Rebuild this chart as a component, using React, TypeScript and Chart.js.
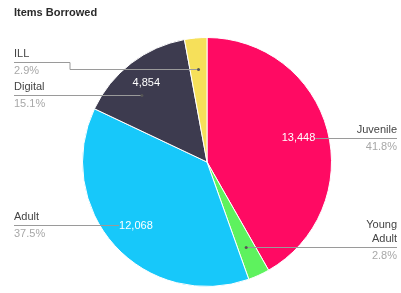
import React, { useEffect, useRef } from "react";
import { Chart, registerables } from "chart.js";

Chart.register(...registerables);

const title = "Items Borrowed";
const categories = ["Juvenile", "Young Adult", "Adult", "Digital", "ILL"];
const nameLines = [["Juvenile"], ["Young", "Adult"], ["Adult"], ["Digital"], ["ILL"]];
const values = [13448, 900, 12068, 4854, 933];
const showValue = [true, false, true, true, false];
const colors = ["#ff0a63", "#5ef25e", "#17c8fa", "#3d3b4f", "#f6e05a"];

const FONT = "Arial, 'Liberation Sans', sans-serif";
const VALUE_RADIUS = [0.76, 0.76, 0.77, 0.8, 0.76];

const labelPlugin = {
  id: "leaderLabels",
  afterDraw(chart: any) {
    const ctx = chart.ctx;
    const meta = chart.getDatasetMeta(0);
    const total = values.reduce((a, b) => a + b, 0);
    const W = chart.width;
    ctx.save();
    ctx.font = `bold 11px ${FONT}`;
    ctx.fillStyle = "#2a2a2a";
    ctx.textAlign = "left";
    ctx.textBaseline = "alphabetic";
    ctx.fillText(title, 14, 16);

    const arcs = meta.data;
    const pos = (arc: any, f: number) => {
      const mid = (arc.startAngle + arc.endAngle) / 2;
      return {
        x: arc.x + Math.cos(mid) * arc.outerRadius * f,
        y: arc.y + Math.sin(mid) * arc.outerRadius * f,
      };
    };

    ctx.font = `11px ${FONT}`;
    const valueBoxes: any[] = [];
    arcs.forEach((arc: any, i: number) => {
      if (!showValue[i]) { valueBoxes.push(null); return; }
      const p = pos(arc, VALUE_RADIUS[i]);
      const txt = values[i].toLocaleString("en-US");
      const w = ctx.measureText(txt).width;
      valueBoxes.push({ x: p.x, y: p.y, w, txt });
    });

    const drawLine = (pts: number[][]) => {
      ctx.strokeStyle = "#9a9a9a";
      ctx.lineWidth = 1;
      ctx.beginPath();
      pts.forEach((p, k) => {
        if (k === 0) ctx.moveTo(p[0], Math.round(p[1]) + 0.5);
        else ctx.lineTo(p[0], Math.round(p[1]) + 0.5);
      });
      ctx.stroke();
    };
    const dot = (x: number, y: number) => {
      ctx.fillStyle = "#555";
      ctx.beginPath();
      ctx.arc(x, Math.round(y) + 0.5, 1.5, 0, Math.PI * 2);
      ctx.fill();
    };
    const drawText = (i: number, lineY: number, right: boolean) => {
      const x = right ? W - 4 : 14;
      ctx.textAlign = right ? "right" : "left";
      ctx.font = `11px ${FONT}`;
      ctx.fillStyle = "#444";
      const lines = nameLines[i];
      lines.forEach((t, k) => {
        ctx.fillText(t, x, lineY - 5 - (lines.length - 1 - k) * 14);
      });
      ctx.fillStyle = "#a8a8a8";
      const pct = ((values[i] / total) * 100).toFixed(1) + "%";
      ctx.fillText(pct, x, lineY + 12);
    };

    {
      const b = valueBoxes[0];
      const y = Math.round(b.y);
      drawLine([[b.x + b.w / 2, y], [W - 4, y]]);
      drawText(0, y, true);
    }
    {
      const p = pos(arcs[1], 0.755);
      drawLine([[p.x, p.y], [W - 4, p.y]]);
      dot(p.x, p.y);
      drawText(1, Math.round(p.y), true);
    }
    {
      const b = valueBoxes[2];
      const y = Math.round(b.y) - 1;
      drawLine([[14, y], [b.x - b.w / 2, y]]);
      drawText(2, y, false);
    }
    {
      const arc = arcs[3];
      const y = 95;
      const r = arc.outerRadius * 0.75;
      const dy = y - arc.y;
      const x = arc.x - Math.sqrt(Math.max(r * r - dy * dy, 0));
      drawLine([[14, y], [x, y]]);
      dot(x, y);
      drawText(3, y, false);
    }
    {
      const p = pos(arcs[4], 0.75);
      const y = 62;
      drawLine([[14, y], [70, y], [70, p.y], [p.x, p.y]]);
      dot(p.x, p.y);
      drawText(4, y, false);
    }

    ctx.font = `11px ${FONT}`;
    ctx.fillStyle = "#ffffff";
    ctx.textAlign = "center";
    ctx.textBaseline = "middle";
    valueBoxes.forEach((b) => {
      if (b) ctx.fillText(b.txt, b.x, b.y);
    });
    ctx.restore();
  },
};

export default function App() {
  const ref = useRef<HTMLCanvasElement>(null);
  useEffect(() => {
    document.body.style.margin = "0";
    const chart = new Chart(ref.current!, {
      type: "pie",
      data: {
        labels: categories,
        datasets: [
          {
            data: values,
            backgroundColor: colors,
            borderColor: "#ffffff",
            borderWidth: 1,
          },
        ],
      },
      options: {
        responsive: false,
        animation: false,
        layout: { padding: { left: 82, right: 69, top: 37, bottom: 6 } },
        plugins: {
          legend: { display: false },
          tooltip: { enabled: false },
          title: { display: false },
        },
      },
      plugins: [labelPlugin],
    });
    return () => chart.destroy();
  }, []);
  return (
    <div style={{ width: 401, height: 293, background: "#fff" }}>
      <canvas ref={ref} width={401} height={293} style={{ display: "block" }} />
    </div>
  );
}
